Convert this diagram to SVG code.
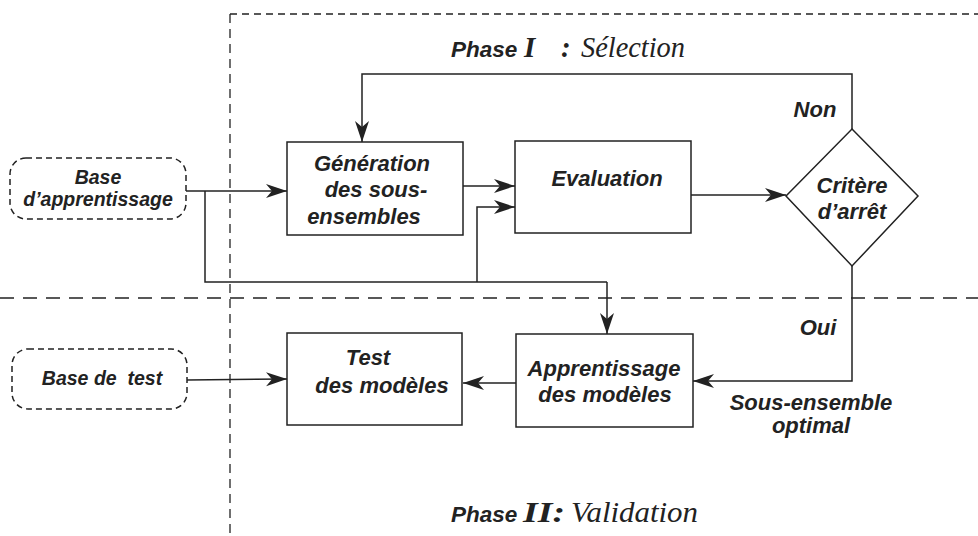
<svg xmlns="http://www.w3.org/2000/svg" width="978" height="536" viewBox="0 0 978 536">
<style>
.bx{fill:none;stroke:#222;stroke-width:1.5}
.base{fill:none;stroke:#222;stroke-width:1.5;stroke-dasharray:6,4}
.ln{fill:none;stroke:#222;stroke-width:1.5}
.ar{fill:none;stroke:#222;stroke-width:1.5;marker-end:url(#ah)}
.t{font-family:"Liberation Sans",Arial,sans-serif;font-weight:bold;font-style:italic;font-size:22px;fill:#222;text-anchor:middle}
.tb{font-family:"Liberation Sans",Arial,sans-serif;font-weight:bold;font-style:italic;font-size:19.5px;fill:#222;text-anchor:middle}
.ph{font-family:"Liberation Sans",Arial,sans-serif;font-weight:bold;font-style:italic;font-size:22.5px;fill:#222}
.sf{font-family:"Liberation Serif","Times New Roman",serif;font-style:italic;font-size:29px;font-weight:normal;fill:#222}
.sfb{font-family:"Liberation Serif","Times New Roman",serif;font-style:italic;font-size:29px;font-weight:bold;fill:#222}
</style>
<defs>
<marker id="ah" markerUnits="userSpaceOnUse" markerWidth="22" markerHeight="16" refX="21" refY="7" orient="auto">
<path d="M0,0 L21,7 L0,14 L6,7 z" fill="#222"/>
</marker>
</defs>
<g id="frames">
<line x1="230" y1="14" x2="230" y2="536" stroke="#222" stroke-width="1.3" stroke-dasharray="9,6"/>
<line x1="230" y1="14" x2="978" y2="14" stroke="#222" stroke-width="1.3" stroke-dasharray="7,5"/>
<line x1="0" y1="298" x2="978" y2="298" stroke="#222" stroke-width="1.3" stroke-dasharray="14,9"/>
</g>
<g id="titles">
<text class="ph" x="451" y="57">Phase</text>
<text class="sfb" x="524" y="57">I</text>
<text class="sfb" x="561" y="57">:</text>
<text class="sf" x="581" y="57" textLength="104" lengthAdjust="spacingAndGlyphs">Sélection</text>
<text class="ph" x="451" y="522">Phase</text>
<text class="sfb" x="523" y="522" textLength="42" lengthAdjust="spacingAndGlyphs">II:</text>
<text class="sf" x="571" y="522" textLength="127" lengthAdjust="spacingAndGlyphs">Validation</text>
</g>
<g id="connectors">
<path class="ar" d="M186,191 L287,191"/>
<path class="ln" d="M205,191 L205,282 L607,282"/>
<path class="ar" d="M607,282 L607,334"/>
<path class="ar" d="M477,282 L477,207 L515,207"/>
<path class="ar" d="M463,186 L515,186"/>
<path class="ar" d="M691,195 L786,195"/>
<path class="ar" d="M852,129 L852,74 L362,74 L362,142"/>
<path class="ar" d="M852,266 L852,381 L693,381"/>
<path class="ar" d="M516,383 L463,383"/>
<path class="ar" d="M187,380 L287,379"/>
</g>
<g id="base-apprentissage">
<rect class="base" x="10" y="158" width="176" height="61" rx="16"/>
<text class="tb" x="98" y="184">Base</text>
<text class="tb" x="98" y="206">d’apprentissage</text>
</g>
<g id="generation">
<rect class="bx" x="287" y="142" width="176" height="93"/>
<text class="t" x="372" y="171">Génération</text>
<text class="t" x="376" y="197">des sous-</text>
<text class="t" x="364" y="224">ensembles</text>
</g>
<g id="evaluation">
<rect class="bx" x="515" y="141" width="176" height="92"/>
<text class="t" x="607" y="186">Evaluation</text>
</g>
<g id="critere">
<polygon class="bx" points="852,129 918,196 852,266 786,196"/>
<text class="t" x="852" y="193">Critère</text>
<text class="t" x="852" y="219">d’arrêt</text>
</g>
<g id="labels">
<text class="t" x="815" y="117">Non</text>
<text class="t" x="818" y="335">Oui</text>
<text class="t" x="811" y="410">Sous-ensemble</text>
<text class="t" x="811" y="433">optimal</text>
</g>
<g id="apprentissage">
<rect class="bx" x="516" y="334" width="177" height="93"/>
<text class="t" x="604" y="376">Apprentissage</text>
<text class="t" x="605" y="402">des modèles</text>
</g>
<g id="test">
<rect class="bx" x="287" y="333" width="175" height="92"/>
<text class="t" x="368" y="365">Test</text>
<text class="t" x="382" y="393">des modèles</text>
</g>
<g id="base-test">
<rect class="base" x="12" y="349" width="175" height="60" rx="16"/>
<text class="tb" x="102" y="385" xml:space="preserve">Base de  test</text>
</g>
</svg>
